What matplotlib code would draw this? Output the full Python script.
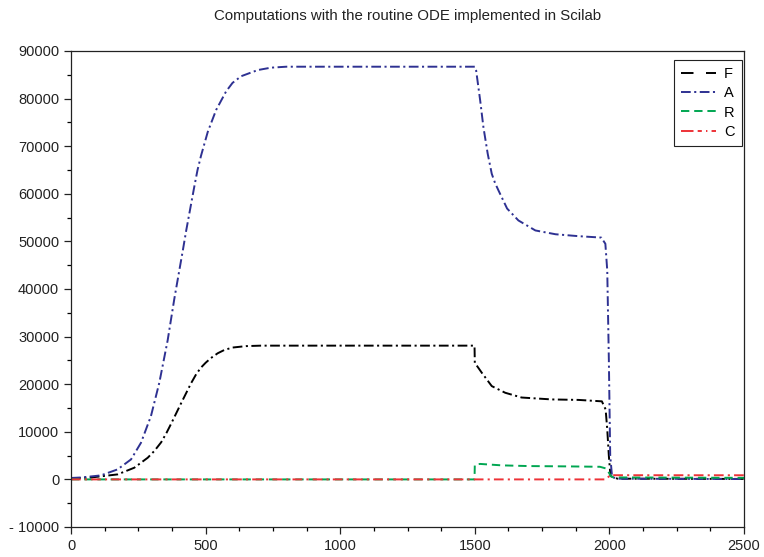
import matplotlib
matplotlib.use("Agg")
import matplotlib.pyplot as plt
from matplotlib.lines import Line2D
from matplotlib.ticker import MultipleLocator, FuncFormatter

plt.rcParams['font.family'] = ['Liberation Sans', 'DejaVu Sans']
plt.rcParams['lines.scale_dashes'] = False

# F : black
t_F = [0, 74, 173, 235, 285, 310, 335, 355, 372, 409, 446, 465, 483, 500, 520,
       545, 570, 600, 650, 706, 800, 1000, 1200, 1499, 1500, 1526, 1563, 1613,
       1674, 1786, 1885, 1972, 1986, 1992, 1998, 2004, 2030, 2500]
F = [200, 400, 1050, 2450, 4550, 6000, 7800, 9800, 11700, 16000, 20200, 22100,
     23500, 24500, 25500, 26500, 27200, 27700, 28000, 28100, 28100, 28100, 28100,
     28100, 24500, 22400, 19600, 18200, 17200, 16800, 16700, 16400, 14700, 10500,
     4900, 700, 150, 100]

# A : blue
t_A = [0, 37, 111, 173, 223, 260, 297, 328, 359, 384, 416, 428, 458, 470, 483,
       508, 539, 576, 600, 632, 694, 743, 800, 1000, 1200, 1500, 1505, 1520, 1532,
       1548, 1563, 1575, 1588, 1620, 1662, 1725, 1800, 1885, 1970, 1985, 1992,
       1998, 2003, 2010, 2030, 2500]
A = [300, 400, 840, 2100, 4200, 7700, 13300, 20300, 29200, 38000, 48300, 52300,
     61500, 65000, 68000, 73000, 77600, 81500, 83300, 84700, 86000, 86500, 86700,
     86700, 86700, 86700, 85900, 79600, 74000, 68400, 64200, 62300, 60700, 56900,
     54400, 52300, 51500, 51100, 50800, 49500, 43900, 25000, 5000, 500, 150, 80]

# R : green
t_R = [0, 1499, 1500, 1520, 1600, 1700, 1850, 1965, 1990, 2005, 2015, 2500]
R = [0, 0, 3100, 3250, 2950, 2800, 2730, 2650, 2250, 700, 420, 330]

# C : red
t_C = [0, 1985, 2000, 2008, 2020, 2500]
C = [0, 0, 700, 950, 880, 870]

labels = ['F', 'A', 'R', 'C']
colors = ['black', '#2e3192', '#00a651', '#ed3237']
dashes = [(7, 2.5, 1.5, 2.5), (7, 2.5, 1.5, 2.5), (6, 3.5), (7, 3, 1.5, 3)]
legend_dashes = [(9, 9), (7, 2.5, 1.5, 2.5), (6, 3.5), (9, 3, 3, 3, 1, 3)]

fig = plt.figure(figsize=(7.64, 5.57), dpi=100)
ax = fig.add_axes([71 / 764, 1 - 527 / 557, 673 / 764, 476 / 557])

series = [(t_F, F), (t_A, A), (t_R, R), (t_C, C)]
for (t, y), c, d in zip(series, colors, dashes):
    ax.plot(t, y, color=c, lw=1.4, dashes=d)

ax.set_xlim(0, 2500)
ax.set_ylim(-10000, 90000)
ax.xaxis.set_major_locator(MultipleLocator(500))
ax.xaxis.set_minor_locator(MultipleLocator(125))
ax.yaxis.set_major_locator(MultipleLocator(10000))
ax.yaxis.set_minor_locator(MultipleLocator(5000))
ax.yaxis.set_major_formatter(FuncFormatter(
    lambda v, p: '- %d' % -v if v < 0 else '%d' % v))
ax.tick_params(which='major', direction='out', length=5, width=0.9,
               labelsize=10.5, colors='#222222')
ax.tick_params(which='minor', direction='out', length=3, width=0.9)
for s in ax.spines.values():
    s.set_linewidth(0.9)
    s.set_color('#222222')

handles = [Line2D([], [], color=c, lw=1.4, dashes=d)
           for c, d in zip(colors, legend_dashes)]
leg = ax.legend(handles, labels, loc='upper right', bbox_to_anchor=(0.997, 0.981),
                borderaxespad=0, fontsize=10.5, handlelength=2.4,
                handletextpad=0.55, labelspacing=0.35, fancybox=False,
                framealpha=1, edgecolor='#222222', borderpad=0.5)
leg.get_frame().set_linewidth(0.8)

fig.text(0.5334, 1 - 16 / 557, 'Computations with the routine ODE implemented in Scilab',
         ha='center', va='center', fontsize=10.8, color='#222222')

fig.savefig('out.png', dpi=100)
